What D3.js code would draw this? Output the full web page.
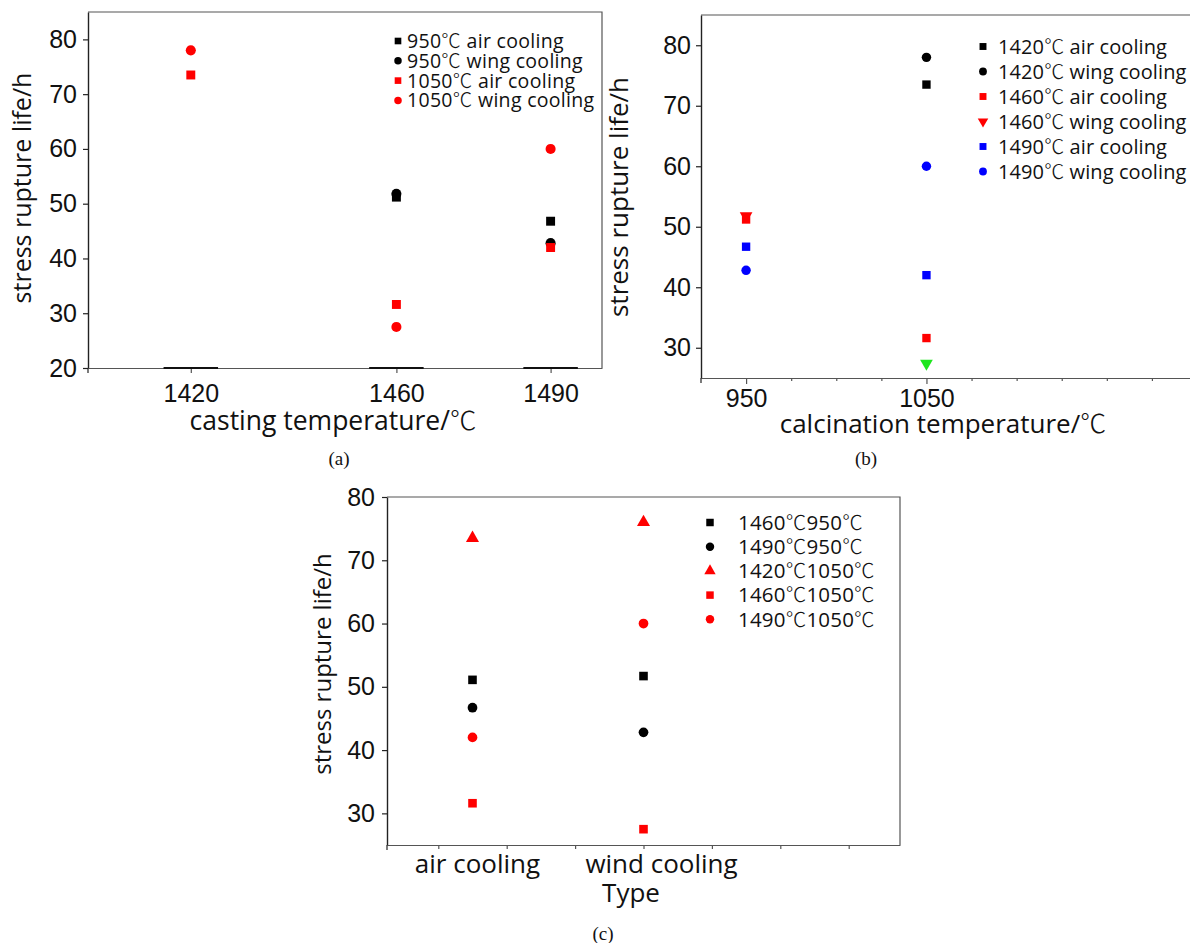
<!DOCTYPE html>
<html>
<head>
<meta charset="utf-8">
<script src="https://cdn.jsdelivr.net/npm/d3@7/dist/d3.min.js"></script>
<style>
  body { margin: 0; background: #fff; }
  svg { display: block; font-family: "Open Sans", "Noto Sans CJK SC", sans-serif; }
</style>
</head>
<body>
<div id="chart"></div>
<script>
// ---- panel (a): stress rupture life vs casting temperature
const castTemps = [1420, 1460, 1490];
const aSeries = ["950℃ air cooling", "950℃ wing cooling", "1050℃ air cooling", "1050℃ wing cooling"];
const a950Air = [null, 51.2, 46.8];
const a950Wing = [null, 51.8, 42.8];
const a1050Air = [73.5, 31.6, 42.0];
const a1050Wing = [78.0, 27.5, 60.0];
const aYTicks = [20, 30, 40, 50, 60, 70, 80];

// ---- panel (b): stress rupture life vs calcination temperature
const calcTemps = [950, 1050];
const bSeries = ["1420℃ air cooling", "1420℃ wing cooling", "1460℃ air cooling",
                 "1460℃ wing cooling", "1490℃ air cooling", "1490℃ wing cooling"];
const b1420Air = [null, 73.5];
const b1420Wing = [null, 78.0];
const b1460Air = [51.2, 31.6];
const b1460Wing = [51.8, 27.4];
const b1490Air = [46.7, 42.0];
const b1490Wing = [42.8, 60.0];
const bYTicks = [30, 40, 50, 60, 70, 80];
const bXTicks = [950, 975, 1000, 1025, 1050, 1075, 1100, 1125, 1150, 1175];
const bXLabels = [950, 1050];

// ---- panel (c): stress rupture life vs cooling type
const coolTypes = ["air cooling", "wind cooling"];
const cSeries = ["1460℃950℃", "1490℃950℃", "1420℃1050℃", "1460℃1050℃", "1490℃1050℃"];
const c1460at950 = [51.1, 51.7];
const c1490at950 = [46.7, 42.8];
const c1420at1050 = [73.5, 76.0];
const c1460at1050 = [31.6, 27.5];
const c1490at1050 = [42.0, 60.0];
const cYTicks = [30, 40, 50, 60, 70, 80];
const cXTicks = [0.8, 1.2, 1.6, 2.0, 2.4, 2.8, 3.2];

const svg = d3.select("#chart").append("svg")
    .attr("width", 1190)
    .attr("height", 943);

const sym = {
  square: d3.symbolSquare,
  circle: d3.symbolCircle,
  up: d3.symbolTriangle,
  down: d3.symbolTriangle
};

function marker(g, shape, size, color, cx, cy) {
  g.append("path")
    .attr("d", d3.symbol(sym[shape], size)())
    .attr("fill", color)
    .attr("transform", `translate(${cx},${cy})` + (shape === "down" ? " rotate(180)" : ""));
}

// write a label, giving the ℃ sign the thin CJK glyph seen in the source
function label(t, str) {
  str.split(/(℃)/).forEach(part => {
    if (!part) return;
    const ts = t.append("tspan").text(part);
    if (part === "℃") ts.attr("font-family", "'Noto Sans CJK SC', sans-serif").attr("font-weight", 300);
  });
  return t;
}

function drawPanel(p) {
  const g = svg.append("g");
  const x = d3.scaleLinear().domain(p.xDomain).range(p.xRange);
  const y = d3.scaleLinear().domain(p.yDomain).range(p.yRange);
  const [x0, x1] = p.xRange, [y0, y1] = p.yRange;

  // top and right border
  g.append("path")
    .attr("d", `M${x0},${y1}H${x1}V${y0}`)
    .attr("fill", "none").attr("stroke", "#555").attr("stroke-width", 1.2);

  // y axis
  const ya = g.append("g")
    .attr("transform", `translate(${x0},0)`)
    .call(d3.axisLeft(y).tickValues(p.yTicks).tickSize(5).tickSizeOuter(0).tickPadding(p.yPad));
  ya.select(".domain").attr("stroke", "#222").attr("stroke-width", 1.4);
  ya.selectAll(".tick line").attr("stroke", "#222").attr("stroke-width", 1.2);
  ya.selectAll("text").attr("font-size", p.tickFont).attr("fill", "#111");

  // x axis
  const xa = g.append("g")
    .attr("transform", `translate(0,${y0})`)
    .call(d3.axisBottom(x).tickValues(p.xTicks).tickSize(p.xTickLen).tickSizeOuter(0)
      .tickPadding(p.xPad).tickFormat(p.xFormat));
  xa.select(".domain").attr("stroke", "#555").attr("stroke-width", 1.2);
  xa.selectAll(".tick line").attr("stroke", "#555").attr("stroke-width", 1.2)
    .attr("y2", d => p.isMajor(d) ? p.xTickLen : p.xMinorLen);
  xa.selectAll("text").attr("font-size", p.tickFont).attr("fill", "#111");
  // y axis stub below the x axis
  g.append("line")
    .attr("x1", x0).attr("x2", x0).attr("y1", y0).attr("y2", y0 + 5)
    .attr("stroke", "#222").attr("stroke-width", 1.2);

  if (p.extra) p.extra(g, x, y);

  // category labels for a categorical axis
  if (p.catLabels) {
    p.catLabels.forEach((c, i) => {
      g.append("text")
        .attr("x", x(p.catPos[i]) + p.catShift[i]).attr("y", y0 + p.catDy)
        .attr("text-anchor", "middle")
        .attr("font-size", p.catFont).attr("fill", "#111")
        .text(c);
    });
  }

  // points
  p.series.forEach((s, i) => {
    const st = p.styles[i];
    s.values.forEach((v, j) => {
      if (v == null) return;
      const col = (p.override && p.override[`${i}-${j}`]) || st.color;
      marker(g, st.shape, p.markSize, col, x(p.catPos[j]), y(v));
    });
  });

  // legend
  p.series.forEach((s, i) => {
    const st = p.styles[i];
    const ly = p.legend.y + i * p.legend.dy;
    marker(g, st.shape, p.legend.size, st.color, p.legend.mx, ly);
    label(g.append("text")
      .attr("x", p.legend.tx).attr("y", ly).attr("dy", "0.36em")
      .attr("font-size", p.legend.font).attr("fill", "#111")
      .attr("letter-spacing", p.legend.spacing || 0), s.name);
  });

  // axis titles
  g.append("text")
    .attr("transform", `translate(${p.yTitle.x},${p.yTitle.y}) rotate(-90)`)
    .attr("text-anchor", "middle")
    .attr("font-size", p.yTitle.font).attr("fill", "#111")
    .text("stress rupture life/h");
  label(g.append("text")
    .attr("x", p.xTitle.x).attr("y", p.xTitle.y)
    .attr("text-anchor", "middle")
    .attr("font-size", p.xTitle.font).attr("fill", "#111"), p.xTitle.text);

  // panel tag
  g.append("text")
    .attr("x", p.tag.x).attr("y", p.tag.y)
    .attr("text-anchor", "middle")
    .attr("font-family", "'Liberation Serif', 'Times New Roman', serif")
    .attr("font-size", 19).attr("fill", "#111")
    .text(p.tag.text);

  return { x, y };
}

// (a)
drawPanel({
  xDomain: [1400, 1500], xRange: [88, 602],
  yDomain: [20, 85], yRange: [368, 12],
  yTicks: aYTicks, xTicks: castTemps, xFormat: d3.format("d"),
  isMajor: () => true, xTickLen: 5, xMinorLen: 5,
  yPad: 6, xPad: 11, tickFont: 25,
  catPos: castTemps,
  series: [
    { name: aSeries[0], values: a950Air },
    { name: aSeries[1], values: a950Wing },
    { name: aSeries[2], values: a1050Air },
    { name: aSeries[3], values: a1050Wing }
  ],
  styles: [
    { shape: "square", color: "#000" },
    { shape: "circle", color: "#000" },
    { shape: "square", color: "#f00" },
    { shape: "circle", color: "#f00" }
  ],
  markSize: 80,
  legend: { mx: 398, tx: 407, y: 41, dy: 19.8, size: 44, font: 19.5, spacing: 0.3 },
  yTitle: { x: 31, y: 188, font: 25 },
  xTitle: { x: 333, y: 430, font: 26.5, text: "casting temperature/℃" },
  tag: { x: 339, y: 465, text: "(a)" },
  // dark strokes lying on the base line at each casting temperature
  extra: (g, x, y) => {
    g.selectAll(".base")
      .data(castTemps)
      .enter().append("line")
        .attr("x1", d => x(d - 5.3)).attr("x2", d => x(d + 5.3))
        .attr("y1", y(20)).attr("y2", y(20))
        .attr("stroke", "#111").attr("stroke-width", 2);
  }
});

// (b)
drawPanel({
  xDomain: [925, 1200], xRange: [701, 1197],
  yDomain: [25, 85], yRange: [378, 15],
  yTicks: bYTicks, xTicks: bXTicks,
  xFormat: d => bXLabels.includes(d) ? d : "",
  isMajor: d => bXLabels.includes(d), xTickLen: 6, xMinorLen: 3,
  yPad: 5, xPad: 5, tickFont: 25,
  catPos: calcTemps,
  series: [
    { name: bSeries[0], values: b1420Air },
    { name: bSeries[1], values: b1420Wing },
    { name: bSeries[2], values: b1460Air },
    { name: bSeries[3], values: b1460Wing },
    { name: bSeries[4], values: b1490Air },
    { name: bSeries[5], values: b1490Wing }
  ],
  styles: [
    { shape: "square", color: "#000" },
    { shape: "circle", color: "#000" },
    { shape: "square", color: "#f00" },
    { shape: "down", color: "#f00" },
    { shape: "square", color: "#00f" },
    { shape: "circle", color: "#00f" }
  ],
  // the 1050 point of "1460℃ wing cooling" is drawn green in the source
  override: { "3-1": "#1ee61e" },
  markSize: 70,
  legend: { mx: 983, tx: 998, y: 46.5, dy: 25, size: 48, font: 20, spacing: 0.1 },
  yTitle: { x: 628, y: 197, font: 26 },
  xTitle: { x: 943, y: 433, font: 26, text: "calcination temperature/℃" },
  tag: { x: 866, y: 465, text: "(b)" }
});

// (c)
drawPanel({
  xDomain: [0.5, 3.5], xRange: [387, 900],
  yDomain: [25, 80], yRange: [845, 497],
  yTicks: cYTicks, xTicks: cXTicks, xFormat: () => "",
  isMajor: () => true, xTickLen: 4, xMinorLen: 4,
  yPad: 7, xPad: 6, tickFont: 25,
  catLabels: coolTypes, catPos: [1, 2], catDy: 28, catFont: 26, catShift: [5, 18],
  series: [
    { name: cSeries[0], values: c1460at950 },
    { name: cSeries[1], values: c1490at950 },
    { name: cSeries[2], values: c1420at1050 },
    { name: cSeries[3], values: c1460at1050 },
    { name: cSeries[4], values: c1490at1050 }
  ],
  styles: [
    { shape: "square", color: "#000" },
    { shape: "circle", color: "#000" },
    { shape: "up", color: "#f00" },
    { shape: "square", color: "#f00" },
    { shape: "circle", color: "#f00" }
  ],
  markSize: 74,
  legend: { mx: 710, tx: 738, y: 522.5, dy: 24.2, size: 56, font: 20.5, spacing: 0.2 },
  yTitle: { x: 331, y: 664, font: 24 },
  xTitle: { x: 631, y: 902, font: 26, text: "Type" },
  tag: { x: 603, y: 940, text: "(c)" }
});
</script>
</body>
</html>
